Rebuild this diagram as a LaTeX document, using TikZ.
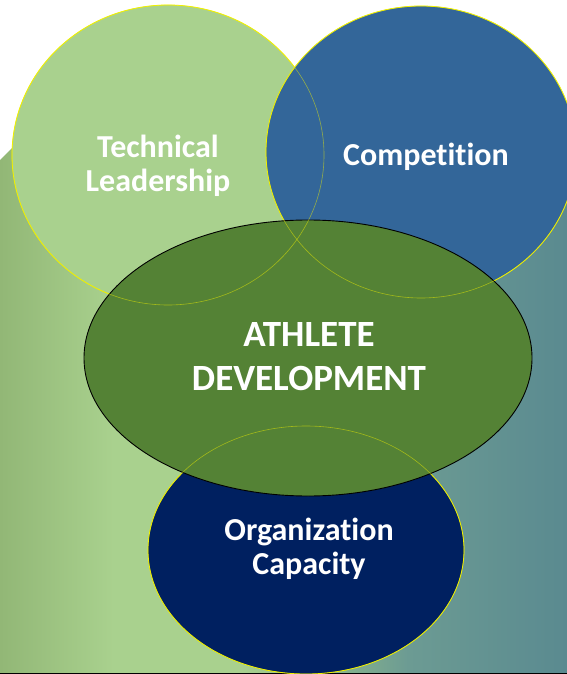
\documentclass[tikz,border=0pt]{standalone}
\usepackage{fontspec}
\setmainfont{Carlito}[Ligatures=NoCommon]
\usetikzlibrary{shapes.geometric}

\definecolor{techgreen}{HTML}{A9D18E}
\definecolor{compblue}{HTML}{336699}
\definecolor{athgreen}{HTML}{548235}
\definecolor{orgnavy}{HTML}{002060}
\definecolor{ringyellow}{HTML}{F0F000}
\definecolor{bgleft}{HTML}{92B776}
\definecolor{bglight}{HTML}{A9D18E}
\definecolor{bgmid}{HTML}{8FBA8A}
\definecolor{bgteal}{HTML}{6C9B93}
\definecolor{bgright}{HTML}{5A8A90}
\definecolor{baseline}{HTML}{3A5A28}

% left-to-right field behind the rings
\pgfdeclarehorizontalshading{fieldshade}{100bp}{color(0bp)=(bgleft); color(25bp)=(bgleft); color(35bp)=(bglight); color(46bp)=(bglight); color(53bp)=(bgmid); color(61bp)=(bgteal); color(75bp)=(bgright); color(100bp)=(bgright)}

\begin{document}
\begin{tikzpicture}[x=1pt, y=-1pt,
    ring/.style={ellipse, inner sep=0pt, draw=ringyellow, line width=0.8pt},
    lbl/.style={text=white, align=center, font=\bfseries\fontsize{32}{34}\selectfont}]
  \useasboundingbox (0,0) rectangle (567,674);
  \clip (0,0) rectangle (567,674);

  % background field
  \shade[shading=fieldshade] (0,160) -- (150,12) -- (296,75) -- (567,150) -- (567,674) -- (0,674) -- cycle;
  \fill[baseline] (0,672.5) rectangle (567,674);

  % outer rings
  \foreach \n/\c/\x/\y/\w/\h in {tech/techgreen/168/155/312/300,
                                 comp/compblue/421/152/310/292,
                                 org/orgnavy/306/550/316/248}
    \node[ring, fill=\c, minimum width=\w pt, minimum height=\h pt] (\n) at (\x,\y) {};

  % centre ring on top
  \node[ellipse, inner sep=0pt, fill=athgreen, draw=black, line width=0.9pt,
        minimum width=448pt, minimum height=276pt] (ath) at (308,358) {};

  % ring outlines showing through
  \foreach \n/\rx/\ry in {tech/156/150, comp/155/146, org/158/124}
    \draw[ringyellow, opacity=.5, line width=.6pt] (\n.center) ellipse [x radius=\rx, y radius=\ry];

  \node[lbl] (techtxt) at (158,166) {Technical\\Leadership};
  \node[lbl] (comptxt) at (426,157) {Competition};
  \node[lbl, font=\bfseries\fontsize{37}{44}\selectfont] (athtxt) at (309,357) {ATHLETE\\DEVELOPMENT};
  \node[lbl] (orgtxt) at (309,549) {Organization\\Capacity};
\end{tikzpicture}
\end{document}
